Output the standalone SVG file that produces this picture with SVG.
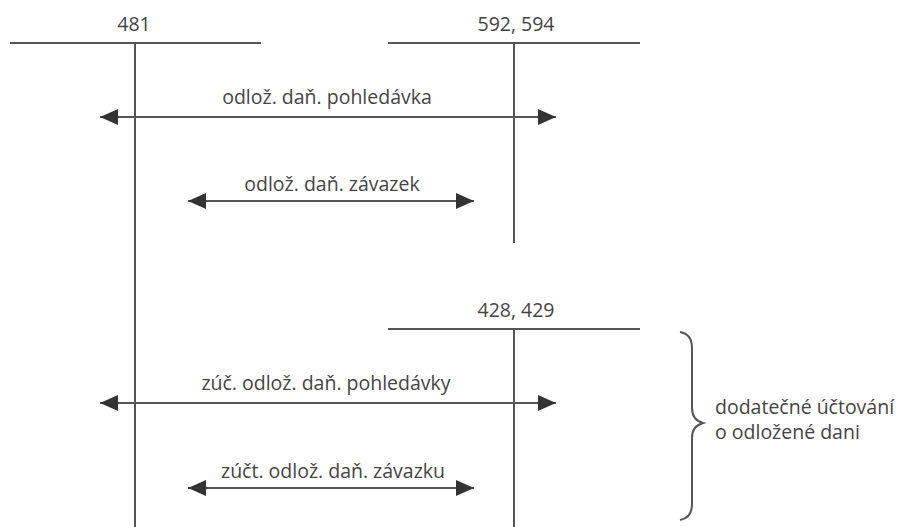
<svg xmlns="http://www.w3.org/2000/svg" width="903" height="527" viewBox="0 0 903 527">
<style>
text{font-family:"Open Sans","Noto Sans",sans-serif;font-size:19.5px;fill:#444}
.ln{stroke:#555;stroke-width:2;fill:none}
.ar{stroke:#555;stroke-width:2;fill:none;marker-start:url(#ah);marker-end:url(#ah)}
</style>
<defs>
<marker id="ah" viewBox="0 0 18 16" refX="18" refY="8" markerWidth="18" markerHeight="16" markerUnits="userSpaceOnUse" orient="auto-start-reverse">
<path d="M0,0 L18,8 L0,16 Z" fill="#333"/>
</marker>
</defs>
<rect width="903" height="527" fill="#fff"/>
<g id="acc481">
<line class="ln" x1="10" y1="43" x2="261" y2="43"/>
<line class="ln" x1="135" y1="43" x2="135" y2="527"/>
<text x="134" y="31" text-anchor="middle">481</text>
</g>
<g id="acc592">
<line class="ln" x1="388" y1="43" x2="640" y2="43"/>
<line class="ln" x1="514" y1="43" x2="514" y2="243"/>
<text x="516" y="31" text-anchor="middle">592, 594</text>
</g>
<g id="acc428">
<line class="ln" x1="388" y1="329" x2="640" y2="329"/>
<line class="ln" x1="514" y1="329" x2="514" y2="527"/>
<text x="516" y="317" text-anchor="middle">428, 429</text>
</g>
<g id="connectors">
<line class="ar" x1="100" y1="117" x2="556" y2="117"/>
<text x="327" y="104" text-anchor="middle">odlož. daň. pohledávka</text>
<line class="ar" x1="188" y1="201" x2="474" y2="201"/>
<text x="332" y="191" text-anchor="middle">odlož. daň. závazek</text>
<line class="ar" x1="100" y1="403" x2="556" y2="403"/>
<text x="326" y="390" text-anchor="middle">zúč. odlož. daň. pohledávky</text>
<line class="ar" x1="188" y1="488" x2="474" y2="488"/>
<text x="333" y="478" text-anchor="middle">zúčt. odlož. daň. závazku</text>
</g>
<g id="brace">
<path class="ln" d="M680,332 Q692,334 692,348 L692,408 Q692,420 703,423 Q692,426 692,438 L692,504 Q692,518 680,520"/>
<text x="715" y="414">dodatečné účtování</text>
<text x="715" y="439">o odložené dani</text>
</g>
</svg>
